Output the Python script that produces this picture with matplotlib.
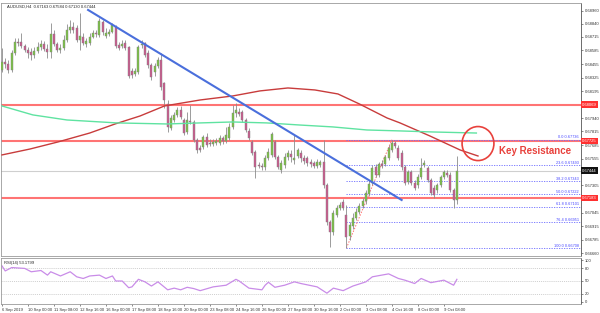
import matplotlib.pyplot as plt
import numpy as np
from matplotlib.patches import Ellipse
import matplotlib.transforms as mtransforms

plt.rcParams['font.family'] = ['Liberation Sans', 'DejaVu Sans']

# AUDUSD H4 candles
opens = [0.68399, 0.68475, 0.68456, 0.68399, 0.68560, 0.68665, 0.68665, 0.68627, 0.68589, 0.68570,
         0.68542, 0.68580, 0.68618, 0.68646, 0.68598, 0.68570, 0.68741, 0.68646, 0.68589, 0.68608,
         0.68684, 0.68779, 0.68808, 0.68798, 0.68684, 0.68712, 0.68646, 0.68656, 0.68712, 0.68750,
         0.68732, 0.68855, 0.68722, 0.68741, 0.68760, 0.68808, 0.68636, 0.68627, 0.68656, 0.68618,
         0.68390, 0.68361, 0.68380, 0.68636, 0.68656, 0.68560, 0.68446, 0.68380, 0.68437, 0.68494,
         0.68276, 0.68076, 0.67848, 0.67924, 0.67972, 0.68019, 0.67924, 0.67810, 0.67914, 0.67905,
         0.67734, 0.67658, 0.67668, 0.67762, 0.67706, 0.67696, 0.67706, 0.67706, 0.67753, 0.67724,
         0.67753, 0.67858, 0.67990, 0.68000, 0.68000, 0.67924, 0.67820, 0.67715, 0.67620, 0.67496,
         0.67487, 0.67478, 0.67563, 0.67592, 0.67715, 0.67572, 0.67449, 0.67496, 0.67572, 0.67601,
         0.67544, 0.67582, 0.67610, 0.67563, 0.67563, 0.67525, 0.67516, 0.67487, 0.67496, 0.67525,
         0.67306, 0.66955, 0.66860, 0.67022, 0.67088, 0.67145, 0.67022, 0.66822, 0.66917, 0.66993,
         0.67050, 0.67107, 0.67154, 0.67221, 0.67326, 0.67478, 0.67402, 0.67506, 0.67506, 0.67563,
         0.67639, 0.67706, 0.67658, 0.67610, 0.67478, 0.67335, 0.67430, 0.67326, 0.67306, 0.67382,
         0.67496, 0.67468, 0.67354, 0.67278, 0.67259, 0.67306, 0.67382, 0.67420, 0.67402, 0.67259,
         0.67163]
highs = [0.68608, 0.68513, 0.68494, 0.68589, 0.68703, 0.68703, 0.68750, 0.68646, 0.68618, 0.68608,
         0.68618, 0.68665, 0.68684, 0.68674, 0.68646, 0.68846, 0.68779, 0.68665, 0.68646, 0.68732,
         0.68836, 0.68874, 0.68855, 0.68826, 0.68940, 0.68750, 0.68703, 0.68750, 0.68779, 0.68779,
         0.68893, 0.68874, 0.68798, 0.68788, 0.68846, 0.68826, 0.68665, 0.68684, 0.68684, 0.68627,
         0.68418, 0.68418, 0.68636, 0.68684, 0.68665, 0.68589, 0.68466, 0.68466, 0.68522, 0.68560,
         0.68285, 0.68114, 0.67972, 0.68000, 0.68048, 0.68057, 0.67943, 0.68000, 0.68066, 0.67924,
         0.67753, 0.67686, 0.67782, 0.67800, 0.67744, 0.67744, 0.67753, 0.67782, 0.67772, 0.67858,
         0.67896, 0.68066, 0.68086, 0.68038, 0.68019, 0.67943, 0.67848, 0.67734, 0.67639, 0.67525,
         0.67516, 0.67592, 0.67658, 0.67810, 0.67734, 0.67592, 0.67544, 0.67610, 0.67639, 0.67639,
         0.67782, 0.67658, 0.67639, 0.67592, 0.67582, 0.67554, 0.67534, 0.67554, 0.67544, 0.67734,
         0.67326, 0.66974, 0.67069, 0.67116, 0.67145, 0.67174, 0.67116, 0.66955, 0.67040, 0.67088,
         0.67136, 0.67183, 0.67259, 0.67344, 0.67496, 0.67506, 0.67525, 0.67544, 0.67592, 0.67686,
         0.67736, 0.67724, 0.67686, 0.67639, 0.67496, 0.67449, 0.67449, 0.67354, 0.67411, 0.67563,
         0.67544, 0.67487, 0.67373, 0.67306, 0.67326, 0.67402, 0.67449, 0.67449, 0.67430, 0.67278,
         0.67584]
lows = [0.68380, 0.68418, 0.68370, 0.68380, 0.68542, 0.68627, 0.68608, 0.68570, 0.68513, 0.68494,
        0.68513, 0.68560, 0.68589, 0.68580, 0.68513, 0.68513, 0.68627, 0.68570, 0.68560, 0.68589,
        0.68665, 0.68750, 0.68750, 0.68665, 0.68589, 0.68636, 0.68618, 0.68636, 0.68703, 0.68712,
        0.68712, 0.68732, 0.68703, 0.68722, 0.68750, 0.68608, 0.68589, 0.68608, 0.68589, 0.68323,
        0.68323, 0.68342, 0.68361, 0.68608, 0.68522, 0.68418, 0.68304, 0.68342, 0.68418, 0.68209,
        0.68038, 0.67810, 0.67829, 0.67905, 0.67952, 0.67934, 0.67782, 0.67791, 0.67886, 0.67715,
        0.67610, 0.67620, 0.67648, 0.67668, 0.67677, 0.67677, 0.67686, 0.67686, 0.67696, 0.67706,
        0.67734, 0.67838, 0.67952, 0.67962, 0.67905, 0.67810, 0.67734, 0.67592, 0.67373, 0.67468,
        0.67449, 0.67449, 0.67544, 0.67572, 0.67554, 0.67458, 0.67420, 0.67468, 0.67544, 0.67525,
        0.67506, 0.67563, 0.67525, 0.67506, 0.67487, 0.67478, 0.67468, 0.67468, 0.67478, 0.67278,
        0.66926, 0.66715, 0.66832, 0.67002, 0.67069, 0.67069, 0.66708, 0.66784, 0.66888, 0.66974,
        0.67031, 0.67088, 0.67126, 0.67202, 0.67306, 0.67382, 0.67382, 0.67468, 0.67487, 0.67544,
        0.67620, 0.67658, 0.67544, 0.67449, 0.67306, 0.67316, 0.67306, 0.67259, 0.67278, 0.67364,
        0.67478, 0.67335, 0.67212, 0.67183, 0.67230, 0.67288, 0.67364, 0.67382, 0.67240, 0.67088,
        0.67130]
closes = [0.68475, 0.68456, 0.68399, 0.68560, 0.68665, 0.68656, 0.68627, 0.68589, 0.68560, 0.68542,
          0.68580, 0.68618, 0.68646, 0.68598, 0.68570, 0.68741, 0.68646, 0.68589, 0.68608, 0.68684,
          0.68779, 0.68808, 0.68779, 0.68684, 0.68722, 0.68656, 0.68674, 0.68712, 0.68750, 0.68741,
          0.68864, 0.68760, 0.68750, 0.68760, 0.68826, 0.68627, 0.68608, 0.68646, 0.68608, 0.68342,
          0.68352, 0.68390, 0.68618, 0.68646, 0.68542, 0.68446, 0.68332, 0.68437, 0.68494, 0.68238,
          0.68114, 0.67858, 0.67943, 0.67972, 0.68019, 0.67952, 0.67800, 0.67924, 0.67905, 0.67734,
          0.67639, 0.67639, 0.67762, 0.67686, 0.67696, 0.67715, 0.67724, 0.67753, 0.67724, 0.67782,
          0.67858, 0.67990, 0.68019, 0.67981, 0.67924, 0.67829, 0.67753, 0.67610, 0.67478, 0.67487,
          0.67478, 0.67563, 0.67620, 0.67791, 0.67572, 0.67478, 0.67516, 0.67572, 0.67610, 0.67572,
          0.67563, 0.67639, 0.67563, 0.67534, 0.67516, 0.67506, 0.67487, 0.67525, 0.67525, 0.67306,
          0.66955, 0.66860, 0.67040, 0.67088, 0.67116, 0.67088, 0.66812, 0.66926, 0.66993, 0.67050,
          0.67107, 0.67154, 0.67230, 0.67316, 0.67468, 0.67402, 0.67506, 0.67487, 0.67572, 0.67658,
          0.67706, 0.67677, 0.67563, 0.67478, 0.67326, 0.67430, 0.67326, 0.67278, 0.67382, 0.67468,
          0.67516, 0.67354, 0.67230, 0.67212, 0.67306, 0.67382, 0.67430, 0.67402, 0.67259, 0.67164,
          0.67444]

# moving averages (sampled off the curves, drawn with forward shift)
ma_red_bars = [0, 8.6, 17.2, 27, 34.8, 42.5, 50, 61, 71, 79.4, 88, 96.3, 103.4, 110, 118.5, 122.5, 131.7, 141, 146.5]
ma_red = [0.67592, 0.67648, 0.67715, 0.67800, 0.67886, 0.67962, 0.68057, 0.68114, 0.68152, 0.68200,
          0.68228, 0.68209, 0.68171, 0.68076, 0.67943, 0.67896, 0.67772, 0.67639, 0.67582]
ma_green_bars = [0, 9.5, 20, 35.4, 50.8, 61, 71, 81.5, 91.7, 101.8, 112.3, 122.5, 132.6, 146]
ma_green = [0.68057, 0.67972, 0.67924, 0.67896, 0.67886, 0.67896, 0.67905, 0.67896, 0.67876, 0.67858,
            0.67829, 0.67820, 0.67810, 0.67800]

# RSI(14)
rsi_bars = [0, 1, 3, 7, 9, 12, 14, 15, 18, 21, 23, 25, 27, 30, 32, 34, 35, 37, 39, 40, 42, 44, 46, 48,
            51, 53, 55, 57, 59, 61, 65, 69, 72, 73, 76, 80, 81, 82, 84, 87, 90, 92, 97, 100, 102, 105,
            108, 112, 114, 119, 122, 124, 127, 129, 132, 136, 139, 140]
rsi_vals = [86, 74, 82, 80, 72, 75, 64, 72, 62, 72, 60, 56, 62, 64, 56, 62, 50, 50, 34, 36, 54, 48, 38, 48,
            29, 33, 29, 35, 32, 27, 36, 40, 54, 50, 33, 29, 40, 47, 35, 40, 48, 44, 36, 21, 33, 27,
            38, 48, 60, 67, 56, 52, 44, 56, 46, 52, 40, 54]

resistance = [0.68069, 0.67725, 0.67183]
last_price = 0.67444
trend_bars = [26.5, 123]
trend_prices = [0.68969, 0.67164]
fib_low_bar, fib_low = 106, 0.66708
fib_high_bar, fib_high = 120, 0.67736
fib_levels = [0.0, 23.6, 38.2, 50.0, 61.8, 76.4, 100.0]

price_ticks = [0.68960, 0.68840, 0.68715, 0.68585, 0.68455, 0.68325, 0.68195, 0.67940, 0.67815,
               0.67685, 0.67555, 0.67305, 0.67045, 0.66915, 0.66785, 0.66660]
date_labels = ["6 Sep 2019", "10 Sep 00:00", "11 Sep 08:00", "12 Sep 16:00", "16 Sep 00:00",
               "17 Sep 08:00", "18 Sep 16:00", "20 Sep 00:00", "23 Sep 08:00", "24 Sep 16:00",
               "26 Sep 00:00", "27 Sep 08:00", "30 Sep 16:00", "2 Oct 00:00", "3 Oct 08:00",
               "4 Oct 16:00", "8 Oct 00:00", "9 Oct 08:00"]

W, H = 600, 313
fig = plt.figure(figsize=(W / 100, H / 100), dpi=100)
x0, x1 = 1 / W, 581 / W
ax = fig.add_axes([x0, 1 - 256 / H, x1 - x0, (256 - 3) / H])
ax2 = fig.add_axes([x0, 1 - 304 / H, x1 - x0, (304 - 258) / H])

xmin, xmax = -0.3, 178.2
for a in (ax, ax2):
    a.set_xlim(xmin, xmax)
    for s in a.spines.values():
        s.set_color('#9a9a9a')
        s.set_linewidth(0.6)
    a.spines['right'].set_color('#555555')
    a.tick_params(axis='both', labelsize=3.0, length=1.5, width=0.4, colors='#333333', pad=1.2)
ax.set_ylim(0.66632, 0.69035)

# horizontal levels
for lvl in resistance:
    ax.axhline(lvl, color='#ff5c5c', lw=1.5, alpha=0.85, zorder=1)
ax.axhline(last_price, color='#cfcfcf', lw=0.8, zorder=1)

# fibonacci retracement
for lv in fib_levels:
    p = fib_high - (fib_high - fib_low) * lv / 100
    ax.plot([fib_low_bar, xmax], [p, p], color='#6b6bff', lw=0.6, ls=(0, (1.5, 1.5)), zorder=1.5)
    ax.text(177.6, p + 0.00003, "%.1f %.5f" % (lv, p), color='#4646ff', fontsize=2.8,
            ha='right', va='bottom', zorder=5)
ax.plot([fib_low_bar, fib_high_bar], [fib_low, fib_high], color='#ff7070', lw=0.7,
        ls=(0, (1.5, 1.5)), zorder=1.5)

# candles
x = np.arange(len(closes))
o = np.array(opens)
c = np.array(closes)
up = c >= o
body = np.maximum(np.abs(c - o), 0.00004)
ax.vlines(x, lows, highs, color='#8c8c8c', lw=0.6, zorder=2)
ax.bar(x[up], body[up], bottom=o[up], width=0.62, color='#7cc444', edgecolor='#808080', lw=0.3, zorder=3)
ax.bar(x[~up], body[~up], bottom=c[~up], width=0.62, color='#cc5b8f', edgecolor='#808080', lw=0.3, zorder=3)

# moving averages and trend line
ax.plot(ma_red_bars, ma_red, color='#c83c3c', lw=1.0, zorder=4)
ax.plot(ma_green_bars, ma_green, color='#5fe3a1', lw=1.0, zorder=4)
ax.plot(trend_bars, trend_prices, color='#4a6fdc', lw=1.5, zorder=4)

# key resistance
ax.add_patch(Ellipse((146.5, 0.67700), 9.8, 0.00323, fill=False, ec='#e8413c', lw=1.2, zorder=6))
ax.text(153.0, 0.67630, "Key Resistance", color='#e8413c', fontsize=7.0, fontweight='bold',
        va='center', ha='left', zorder=6)

# header
ax.text(0.01, 0.995, "AUDUSD,H4  0.67163 0.67584 0.67130 0.67444", transform=ax.transAxes,
        fontsize=3.0, va='top', ha='left', color='#222222')

# price axis
ax.yaxis.tick_right()
ax.set_yticks(price_ticks)
ax.set_yticklabels(["%.5f" % t for t in price_ticks])
ax.set_xticks([])
tr = mtransforms.blended_transform_factory(ax.transAxes, ax.transData)
for lvl in resistance:
    ax.text(1.002, lvl, "%.5f" % lvl, transform=tr, fontsize=3.0, color='white', va='center', ha='left',
            bbox=dict(boxstyle='square,pad=0.3', fc='#ff3030', ec='none'), zorder=7, clip_on=False)
ax.text(1.002, last_price, "%.5f" % last_price, transform=tr, fontsize=3.0, color='white', va='center',
        ha='left', bbox=dict(boxstyle='square,pad=0.3', fc='#111111', ec='none'), zorder=7, clip_on=False)

# RSI panel
ax2.set_ylim(-4.8, 104.8)
for lv in (80, 50, 20):
    ax2.axhline(lv, color='#bdbdbd', lw=0.5, ls=(0, (1.5, 1.5)))
ax2.plot(rsi_bars, rsi_vals, color='#c98ce8', lw=0.9)
ax2.yaxis.tick_right()
ax2.set_yticks([0, 20, 50, 80, 100])
ax2.set_xticks(np.arange(len(date_labels)) * 8)
ax2.set_xticklabels(date_labels, ha='left')
ax2.text(0.005, 0.93, "RSI(14) 53.1799", transform=ax2.transAxes, fontsize=3.0, va='top',
         ha='left', color='#222222')

fig.savefig("out.png", dpi=100)
